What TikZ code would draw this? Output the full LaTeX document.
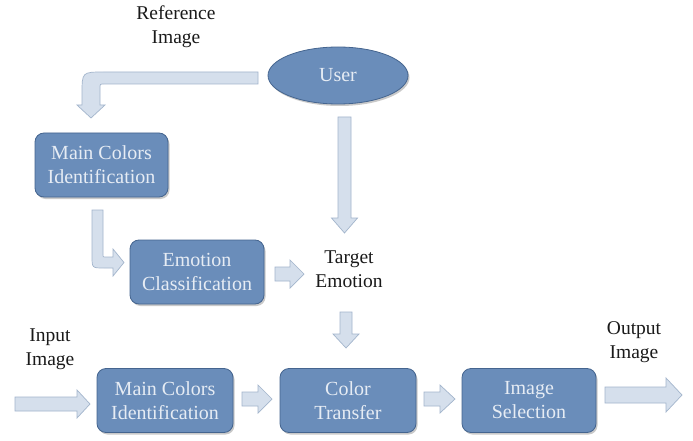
\documentclass[tikz,border=0pt]{standalone}
\usepackage{fontspec}
\setmainfont{Liberation Serif}
\usetikzlibrary{shapes.geometric,shadows}
\definecolor{boxfill}{HTML}{6A8DBA}
\definecolor{boxline}{HTML}{45658F}
\definecolor{boxtext}{HTML}{E6ECF4}
\definecolor{arrfill}{HTML}{D5DFEC}
\definecolor{arrline}{HTML}{A3B5CC}
\definecolor{labtext}{HTML}{1A1A1A}
\tikzset{
  procbox/.style={draw=boxline, line width=0.8pt, fill=boxfill, rounded corners=9pt,
    text=boxtext, align=center, font=\fontsize{20}{24}\selectfont,
    inner sep=0pt, minimum height=64pt,
    drop shadow={shadow xshift=1.5pt, shadow yshift=-2pt, opacity=0.35, fill=black!60}},
  userell/.style={ellipse, draw=boxline, line width=0.8pt, fill=boxfill,
    text=boxtext, font=\fontsize{20}{24}\selectfont, inner sep=0pt,
    minimum width=140pt, minimum height=57pt,
    drop shadow={shadow xshift=1.5pt, shadow yshift=-2pt, opacity=0.35, fill=black!60}},
  lab/.style={align=center, text=labtext, font=\fontsize{19.5}{24}\selectfont, inner sep=0pt},
  blockarrow/.style={fill=arrfill, draw=arrline, line width=0.7pt, line join=miter}
}
\begin{document}
\begin{tikzpicture}[x=1pt,y=-1pt]
\useasboundingbox (0,0) rectangle (693,441);
\fill[white] (0,0) rectangle (693,441);

% nodes
\node[userell] (user) at (338,75.5) {User};
\node[procbox, minimum width=133pt] (mci1) at (101.5,165) {Main Colors\\Identification};
\node[procbox, minimum width=134pt] (ec) at (197,272) {Emotion\\Classification};
\node[procbox, minimum width=136pt] (mci2) at (165,400.5) {Main Colors\\Identification};
\node[procbox, minimum width=136pt] (ct) at (348,400.5) {Color\\Transfer};
\node[procbox, minimum width=134pt] (is) at (529,400.5) {Image\\Selection};

\node[lab] (ref) at (176,27) {Reference\\Image};
\node[lab] (te) at (349,269) {Target\\Emotion};
\node[lab] (inp) at (50,349) {Input\\Image};
\node[lab] (outp) at (634,342) {Output\\Image};

% bent arrow: User -> top Main Colors Identification
\draw[blockarrow] (258,72) -- (104,72) .. controls (82,72) .. (82,94)
  -- (82,105) -- (77,105) -- (91,118) -- (105,105) -- (100,105) -- (100,88)
  .. controls (100,84) .. (104,84) -- (258,84) -- cycle;

% bent arrow: top MCI -> Emotion Classification
\draw[blockarrow] (92,210) -- (92,256) .. controls (92,268) .. (104,268)
  -- (113,268) -- (113,276) -- (124,262.5) -- (113,249) -- (113,257)
  -- (105,257) .. controls (103,257) .. (103,255) -- (103,210) -- cycle;

% User -> Target Emotion (down)
\draw[blockarrow] (338,117) -- (351,117) -- (351,218) -- (357.5,218) -- (344.5,233)
  -- (331.5,218) -- (338,218) -- cycle;

% Emotion Classification -> Target Emotion
\draw[blockarrow] (275,267) -- (290,267) -- (290,260) -- (304,274) -- (290,288)
  -- (290,281) -- (275,281) -- cycle;

% Target Emotion -> Color Transfer (down)
\draw[blockarrow] (340,312) -- (352,312) -- (352,334) -- (359,334) -- (346,348)
  -- (333,334) -- (340,334) -- cycle;

% Input arrow
\draw[blockarrow] (15,397) -- (77,397) -- (77,390) -- (90,404) -- (77,418)
  -- (77,411) -- (15,411) -- cycle;

% MCI -> CT
\draw[blockarrow] (242,392) -- (258,392) -- (258,385) -- (272,399) -- (258,413)
  -- (258,406) -- (242,406) -- cycle;

% CT -> IS
\draw[blockarrow] (424,392) -- (440,392) -- (440,385) -- (455,399) -- (440,413)
  -- (440,406) -- (424,406) -- cycle;

% Output arrow
\draw[blockarrow] (605,387) -- (666,387) -- (666,378) -- (682,395) -- (666,412)
  -- (666,403) -- (605,403) -- cycle;
\end{tikzpicture}
\end{document}
